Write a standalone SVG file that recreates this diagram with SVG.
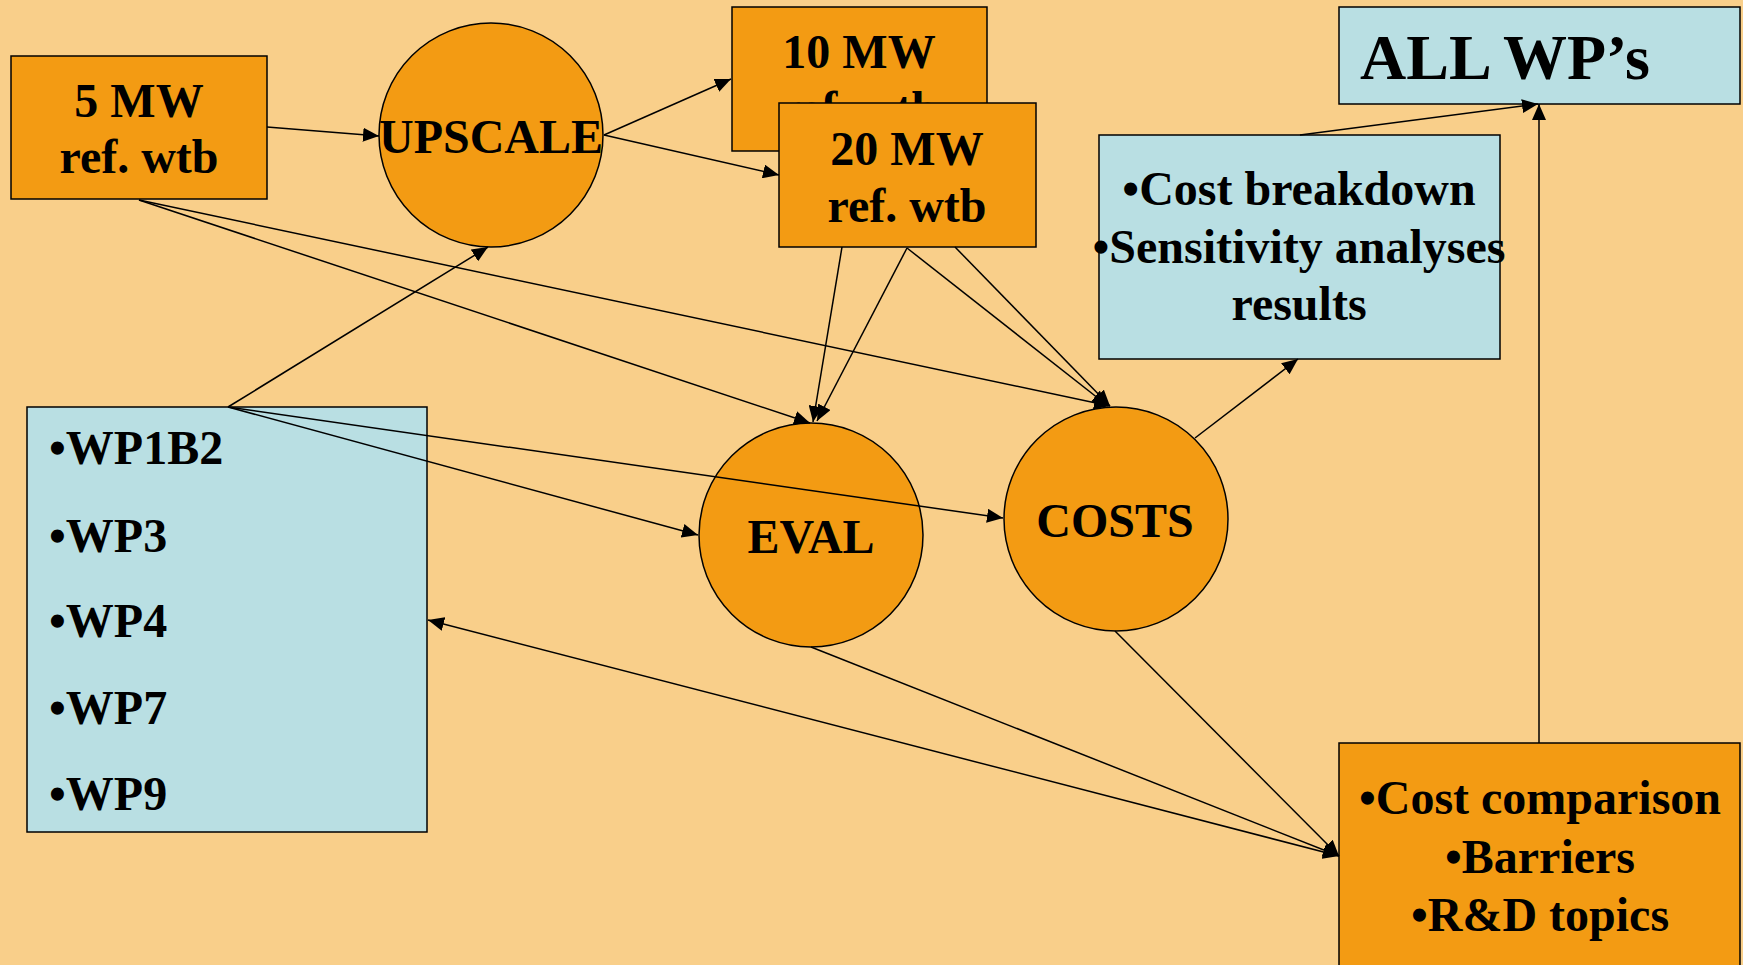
<svg xmlns="http://www.w3.org/2000/svg" width="1743" height="965" viewBox="0 0 1743 965">
<defs>
<marker id="ah" markerUnits="userSpaceOnUse" markerWidth="17" markerHeight="14" refX="16" refY="7" orient="auto-start-reverse" viewBox="0 0 17 14">
<path d="M0,0 L16,7 L0,14 z" fill="#000"/>
</marker>
<style>
.bg{fill:#F9CF8A}
.or{fill:#F39B13;stroke:#000;stroke-width:1.5}
.bl{fill:#B9DFE3;stroke:#000;stroke-width:1.5}
.t{font-family:"Liberation Serif","Times New Roman",serif;font-weight:bold;font-size:48px;fill:#000}
.c{text-anchor:middle}
.ln{stroke:#000;stroke-width:1.5;fill:none;marker-end:url(#ah)}
</style>
</defs>
<rect class="bg" x="0" y="0" width="1743" height="965"/>
<g id="n5mw">
<rect class="or" x="11" y="56" width="256" height="143"/>
<text class="t c" x="139" y="117">5 MW</text>
<text class="t c" x="139" y="173">ref. wtb</text>
</g>
<g id="upscale">
<circle class="or" cx="491" cy="135" r="112"/>
<text class="t c" x="491" y="153">UPSCALE</text>
</g>
<g id="n10mw">
<rect class="or" x="732" y="7" width="255" height="144"/>
<text class="t c" x="859" y="68">10 MW</text>
<text class="t c" x="859" y="125">ref. wtb</text>
</g>
<g id="n20mw">
<rect class="or" x="779" y="103" width="257" height="144"/>
<text class="t c" x="907" y="165">20 MW</text>
<text class="t c" x="907" y="222">ref. wtb</text>
</g>
<g id="allwp">
<rect class="bl" x="1339" y="7" width="401" height="97"/>
<text class="t" x="1360" y="79" style="font-size:64px">ALL WP’s</text>
</g>
<g id="costbreak">
<rect class="bl" x="1099" y="135" width="401" height="224"/>
<text class="t c" x="1299" y="205">•Cost breakdown</text>
<text class="t c" x="1299" y="263">•Sensitivity analyses</text>
<text class="t c" x="1299" y="320">results</text>
</g>
<g id="wplist">
<rect class="bl" x="27" y="407" width="400" height="425"/>
<text class="t" x="49" y="464">•WP1B2</text>
<text class="t" x="49" y="552">•WP3</text>
<text class="t" x="49" y="637">•WP4</text>
<text class="t" x="49" y="724">•WP7</text>
<text class="t" x="49" y="810">•WP9</text>
</g>
<g id="eval">
<circle class="or" cx="811" cy="535" r="112"/>
<text class="t c" x="811" y="553">EVAL</text>
</g>
<g id="costs">
<circle class="or" cx="1116" cy="519" r="112"/>
<text class="t c" x="1115" y="537">COSTS</text>
</g>
<g id="costcomp">
<rect class="or" x="1339" y="743" width="401" height="230"/>
<text class="t c" x="1540" y="814">•Cost comparison</text>
<text class="t c" x="1540" y="873">•Barriers</text>
<text class="t c" x="1540" y="931">•R&amp;D topics</text>
</g>
<g id="connectors">
<line class="ln" x1="267" y1="127" x2="379" y2="136"/>
<line class="ln" x1="604" y1="135" x2="731" y2="79"/>
<line class="ln" x1="604" y1="135" x2="779" y2="175"/>
<line class="ln" x1="139" y1="200" x2="810" y2="423"/>
<line class="ln" x1="139" y1="200" x2="1110" y2="406"/>
<line class="ln" x1="228" y1="407" x2="488" y2="247"/>
<line class="ln" x1="228" y1="407" x2="698" y2="535"/>
<line class="ln" x1="228" y1="407" x2="1003" y2="518"/>
<line class="ln" x1="842" y1="247" x2="813" y2="422"/>
<line class="ln" x1="907" y1="248" x2="817" y2="421"/>
<line class="ln" x1="907" y1="248" x2="1108" y2="406"/>
<line class="ln" x1="955" y1="247" x2="1110" y2="406"/>
<line class="ln" x1="1195" y1="438" x2="1298" y2="359"/>
<line class="ln" x1="1300" y1="135" x2="1538" y2="104"/>
<line class="ln" x1="1539" y1="743" x2="1539" y2="104"/>
<line class="ln" x1="811" y1="647" x2="1339" y2="856"/>
<line class="ln" x1="1115" y1="631" x2="1339" y2="856"/>
<line class="ln" x1="1339" y1="856" x2="428" y2="620" style="marker-start:url(#ah)"/>
</g>
</svg>
